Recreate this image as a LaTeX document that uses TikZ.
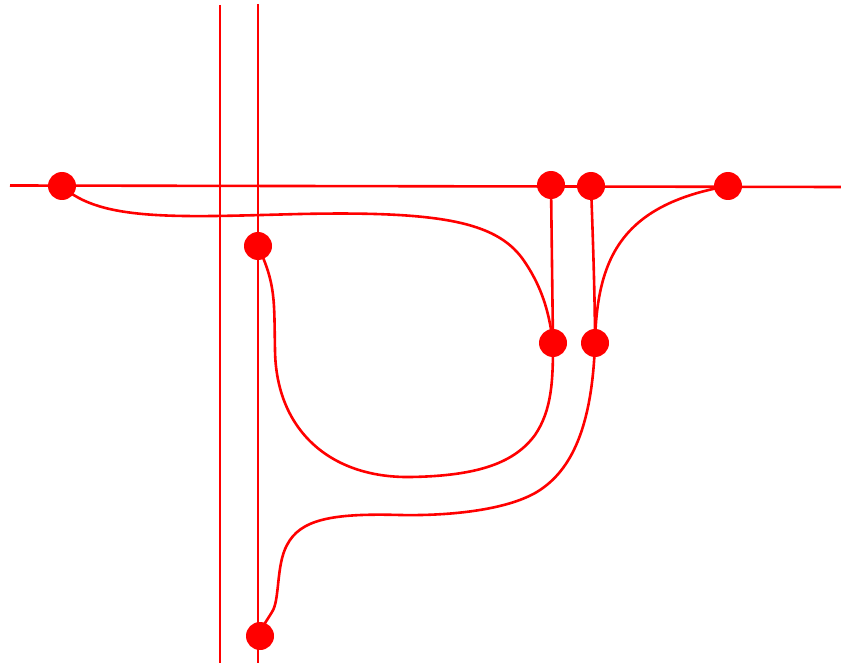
\documentclass[tikz,border=0pt]{standalone}
\begin{document}
\begin{tikzpicture}[x=1pt,y=-1pt,
  wire/.style={draw=red,line width=2.6pt},
  dotnode/.style={circle,fill=red,inner sep=0pt,minimum size=28pt}]
\useasboundingbox (0,0) rectangle (841,663);
% straight lines
\coordinate (hl) at (10,185.5);
\coordinate (hr) at (841,187);
\coordinate (v1t) at (220,5);
\coordinate (v1b) at (220,663);
\coordinate (v2t) at (258,4);
\coordinate (v2b) at (258,663);
\draw[wire] (hl) -- (hr);
\draw[wire] (v1t) -- (v1b);
\draw[wire] (v2t) -- (v2b);
% nodes
\node[dotnode] (a) at (62,186) {};
\node[dotnode] (b) at (258,246) {};
\node[dotnode] (c) at (551,185) {};
\node[dotnode] (d) at (591,186) {};
\node[dotnode] (e) at (728,186) {};
\node[dotnode] (f) at (553,343) {};
\node[dotnode] (g) at (595,343) {};
\node[dotnode] (h) at (260,636) {};
% connectors
\draw[wire] (a.center) .. controls (100,222) and (180,217) .. (300,214)
  .. controls (440,211) and (495,222) .. (522,258)
  .. controls (545,290) and (550,320) .. (f.center);
\draw[wire] (c.center) -- (f.center);
\draw[wire] (d.center) .. controls (593,240) and (595,300) .. (g.center);
\draw[wire] (e.center) .. controls (620,205) and (597,260) .. (g.center);
\draw[wire] (b.center) .. controls (276,285) and (274,300) .. (275,350)
  .. controls (276,430) and (330,478) .. (410,477)
  .. controls (480,476) and (515,462) .. (535,435)
  .. controls (552,410) and (553,380) .. (f.center);
\draw[wire] (g.center) .. controls (592,430) and (570,470) .. (540,490)
  .. controls (510,510) and (450,516) .. (400,515)
  .. controls (330,513) and (300,520) .. (287,545)
  .. controls (276,565) and (280,600) .. (272,612)
  .. controls (266,622) and (262,626) .. (h.center);
\end{tikzpicture}
\end{document}
